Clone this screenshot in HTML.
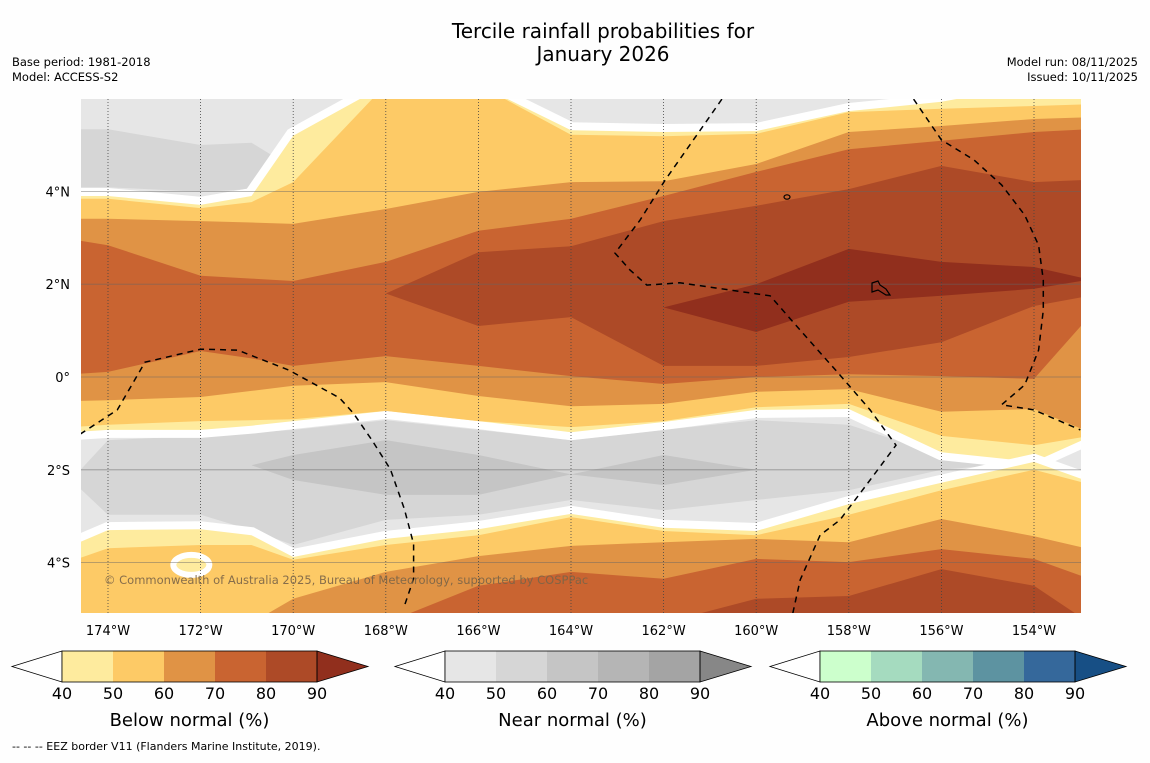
<!DOCTYPE html>
<html><head><meta charset="utf-8">
<style>
html,body{margin:0;padding:0;background:#fefefe;}
body{width:1150px;height:758px;overflow:hidden;font-family:"Liberation Sans",sans-serif;}
svg text{font-family:"DejaVu Sans","Liberation Sans",sans-serif;}
</style></head>
<body>
<svg id="chart" width="1150" height="758" viewBox="0 0 1150 758" xmlns="http://www.w3.org/2000/svg">
<rect width="1150" height="758" fill="#fefefe"/>
<text x="603" y="38" font-size="20" text-anchor="middle" fill="#000">Tercile rainfall probabilities for</text>
<text x="603" y="61" font-size="20" text-anchor="middle" fill="#000">January 2026</text>
<text x="12" y="66" font-size="11.5" fill="#000">Base period: 1981-2018</text>
<text x="12" y="81" font-size="11.5" fill="#000">Model: ACCESS-S2</text>
<text x="1138" y="66" font-size="11.5" text-anchor="end" fill="#000">Model run: 08/11/2025</text>
<text x="1138" y="81" font-size="11.5" text-anchor="end" fill="#000">Issued: 10/11/2025</text>
<defs><clipPath id="mapclip"><rect x="81" y="99" width="1000" height="514"/></clipPath></defs>
<g id="map" clip-path="url(#mapclip)">
<rect x="81" y="99" width="1000" height="514" fill="#e6e6e6"/>
<g id="layers"></g>
<g id="grid"></g>
<g id="eez"></g>
<text x="104" y="584" font-size="11.5" fill="#7a6448" opacity="0.9">© Commonwealth of Australia 2025, Bureau of Meteorology, supported by COSPPac</text>
</g>
<g id="axes"></g>
<g id="cbars"></g>
<text x="12" y="750" font-size="11" fill="#000">--  --  -- EEZ border V11 (Flanders Marine Institute, 2019).</text>
</svg>
<script>
// ---- data (latitudes of contour edges at each longitude column) ----
const lons = [-174.8,-174,-172,-170.9,-170,-168,-166,-164,-162,-160,-158,-156,-154,-152.8];
// northern below-normal band: north/south edges per level
const n40N = [3.90,3.90,3.71,3.90,5.2,6.3,6.3,5.32,5.28,5.30,5.73,5.93,6.3,6.3];
const n40S = [-1.19,-1.14,-1.14,-1.05,-0.95,-0.73,-0.95,-1.19,-0.97,-0.71,-0.69,-1.62,-1.83,-1.29];
const n50N = [3.84,3.84,3.64,3.77,4.20,6.3,6.3,5.22,5.19,5.24,5.71,5.78,5.84,5.88];
const n50S = [-1.08,-1.03,-0.95,-0.93,-0.91,-0.73,-0.95,-1.08,-0.95,-0.65,-0.58,-1.27,-1.47,-1.27];
const n60N = [3.41,3.41,3.36,3.33,3.30,3.62,3.99,4.20,4.22,4.59,5.28,5.41,5.56,5.60];
const n60S = [-0.52,-0.50,-0.43,-0.30,-0.19,-0.11,-0.41,-0.63,-0.58,-0.32,-0.26,-0.75,-0.69,-1.19];
const n70N = [2.97,2.84,2.18,2.12,2.07,2.48,3.15,3.41,3.90,4.42,4.91,5.09,5.28,5.34];
const n70S = [0.06,0.11,0.56,0.40,0.24,0.45,0.24,0.02,-0.15,0.0,0.06,0.02,-0.04,1.31];
const n80N = [1.8,1.8,1.8,1.8,1.8,1.8,2.69,2.82,3.36,3.69,4.05,4.55,4.20,4.25];
const n80S = [1.8,1.8,1.8,1.8,1.8,1.8,1.10,1.29,0.24,0.24,0.43,0.75,1.53,1.75];
const n90N = [1.6,1.6,1.6,1.6,1.6,1.6,1.6,1.6,1.5,2.00,2.76,2.48,2.37,2.1];
const n90S = [1.6,1.6,1.6,1.6,1.6,1.6,1.6,1.6,1.5,0.97,1.62,1.75,1.90,2.1];
// southern below-normal band: north edges (extends to map bottom)
const s40N = [-3.64,-3.30,-3.28,-3.41,-3.88,-3.49,-3.28,-2.95,-3.25,-3.32,-2.74,-2.28,-1.83,-2.26];
const s50N = [-3.97,-3.69,-3.62,-3.62,-3.94,-3.62,-3.41,-3.02,-3.32,-3.41,-2.97,-2.44,-2.00,-2.31];
const s60N = [-5.3,-5.3,-5.3,-5.3,-4.78,-4.20,-3.86,-3.64,-3.56,-3.49,-3.56,-3.06,-3.43,-3.71];
const s70N = [-5.3,-5.3,-5.3,-5.3,-5.3,-5.3,-4.50,-4.20,-4.35,-3.92,-3.99,-3.71,-3.92,-4.35];
const s80N = [-5.3,-5.3,-5.3,-5.3,-5.3,-5.3,-5.3,-5.3,-5.3,-4.78,-4.72,-4.14,-4.50,-5.3];
const bottomLat = -5.3;
// near-normal regions
const t50N = [5.34,5.34,5.0,5.05,4.5,4.5,4.5,4.5,4.5,4.5,4.5,4.5,4.5,4.5];
const t50S = [4.09,4.09,3.99,4.05,4.5,4.5,4.5,4.5,4.5,4.5,4.5,4.5,4.5,4.5];
const g50N = [-2.22,-1.36,-1.27,-1.2,-1.14,-0.93,-1.14,-1.36,-1.14,-0.93,-1.03,-1.68,-1.83,-1.83];
const g50S = [-2.22,-2.97,-2.97,-3.3,-3.62,-3.08,-2.97,-2.65,-2.87,-2.65,-2.44,-2.00,-1.83,-1.83];
const g60N = [-2.0,-2.0,-2.0,-1.9,-1.68,-1.36,-1.68,-2.1,-1.68,-2.0,-2.0,-2.0,-2.0,-2.0];
const g60S = [-2.0,-2.0,-2.0,-1.9,-2.22,-2.54,-2.54,-2.1,-2.33,-2.0,-2.0,-2.0,-2.0,-2.0];
const lonTicks = [-174,-172,-170,-168,-166,-164,-162,-160,-158,-156,-154];
const lonTickLabels = ["174°W","172°W","170°W","168°W","166°W","164°W","162°W","160°W","158°W","156°W","154°W"];
const latTicks = [4,2,0,-2,-4];
const latTickLabels = ["4°N","2°N","0°","2°S","4°S"];
const cbLabels = ["40","50","60","70","80","90"];
// EEZ borders (lon, lat)
const eez1Lon = [-174.6,-173.8,-173.2,-172.0,-171.2,-170.1,-169.0,-168.7,-168.3,-167.9,-167.6,-167.4,-167.4,-167.6];
const eez1Lat = [-1.23,-0.71,0.32,0.60,0.58,0.15,-0.45,-0.78,-1.36,-1.99,-2.84,-3.60,-4.35,-4.94];
const eez2Lon = [-160.74,-161.21,-161.97,-162.51,-163.05,-162.73,-162.36,-161.65,-159.70,-159.05,-158.19,-157.54,-156.98,-157.54,-158.19,-158.62,-159.05,-159.21];
const eez2Lat = [5.99,5.32,4.24,3.38,2.67,2.31,1.98,2.03,1.75,1.01,0.04,-0.71,-1.47,-2.22,-3.08,-3.41,-4.37,-5.09];
const eez3Lon = [-156.6,-156.0,-155.3,-154.7,-154.2,-153.9,-153.8,-153.8,-153.9,-154.2,-154.7,-154.0,-153.0];
const eez3Lat = [5.99,5.11,4.68,4.14,3.49,2.84,2.09,1.44,0.58,-0.17,-0.60,-0.71,-1.14];

const X = lon => 108 + (lon + 174) * 46.3;
const Y = lat => 377 - lat * 46.4;
const NS = "http://www.w3.org/2000/svg";
function mk(tag, attrs, parent){const e=document.createElementNS(NS,tag);for(const k in attrs)e.setAttribute(k,attrs[k]);parent.appendChild(e);return e;}
function bandPts(N,S){
  const a=[];for(let i=0;i<lons.length;i++)a.push(X(lons[i]).toFixed(1)+","+Y(N[i]).toFixed(1));
  for(let i=lons.length-1;i>=0;i--)a.push(X(lons[i]).toFixed(1)+","+Y(S[i]).toFixed(1));
  return a.join(" ");
}
const layers=document.getElementById("layers");
function band(N,S,fill,name,white){
  const p=mk("polygon",{points:bandPts(N,S),fill:fill},layers);
  if(white){p.setAttribute("stroke","#ffffff");p.setAttribute("stroke-width","16");p.setAttribute("stroke-linejoin","miter");p.setAttribute("paint-order","stroke");}
  
  
}
const bottom = lons.map(()=>bottomLat);
band(t50N,t50S,"#d6d6d6","near-normal-50-north",false);
band(g50N,g50S,"#d6d6d6","near-normal-50-south",false);
band(g60N,g60S,"#c5c5c5","near-normal-60-south",false);
const BC=["#feeb9e","#fdca66","#e09345","#c96431","#ad4a27","#912f1d"];
band(n40N,n40S,BC[0],"below-normal-40-north",true);
band(n50N,n50S,BC[1],"below-normal-50-north",false);
band(n60N,n60S,BC[2],"below-normal-60-north",false);
band(n70N,n70S,BC[3],"below-normal-70-north",false);
band(n80N,n80S,BC[4],"below-normal-80-north",false);
band(n90N,n90S,BC[5],"below-normal-90-north",false);
band(s40N,bottom,BC[0],"below-normal-40-south",true);
band(s50N,bottom,BC[1],"below-normal-50-south",false);
band(s60N,bottom,BC[2],"below-normal-60-south",false);
band(s70N,bottom,BC[3],"below-normal-70-south",false);
band(s80N,bottom,BC[4],"below-normal-80-south",false);
// weak-signal patch near 4S 172W
const hole=mk("ellipse",{cx:X(-172.2),cy:Y(-4.05),rx:18,ry:10,fill:"#feeb9e",stroke:"#fff","stroke-width":"6"},layers);



// grid
const grid=document.getElementById("grid");
lonTicks.forEach(l=>{const g=mk("line",{x1:X(l),x2:X(l),y1:99,y2:613,stroke:"#444","stroke-width":"0.8","stroke-dasharray":"1,2"},grid);

});
latTicks.forEach(l=>{const g=mk("line",{x1:81,x2:1081,y1:Y(l),y2:Y(l),stroke:"#666","stroke-width":"0.8","stroke-opacity":"0.6"},grid);

});

// EEZ lines
const eez=document.getElementById("eez");
function eline(LO,LA,name){const p=LO.map((l,i)=>X(l).toFixed(1)+","+Y(LA[i]).toFixed(1)).join(" ");
const e=mk("polyline",{points:p,fill:"none",stroke:"#000","stroke-width":"1.5","stroke-dasharray":"6,5"},eez);

}
eline(eez1Lon,eez1Lat,"eez-border-west");
eline(eez2Lon,eez2Lat,"eez-border-central");
eline(eez3Lon,eez3Lat,"eez-border-east");
const isl=mk("path",{d:"M872,283 l6,-2 l2,4 l6,4 l4,6 l-4,0 l-8,-5 l-6,2 z",fill:"none",stroke:"#000","stroke-width":"1.2"},eez);


const isl2=mk("ellipse",{cx:787,cy:197,rx:3,ry:2.2,fill:"none",stroke:"#000","stroke-width":"1.2"},eez);



// axes labels
const axes=document.getElementById("axes");
lonTicks.forEach((l,i)=>{const t=mk("text",{x:X(l),y:635,"font-size":"13","text-anchor":"middle",fill:"#000"},axes);t.textContent=lonTickLabels[i];

});
latTicks.forEach((l,i)=>{const t=mk("text",{x:70,y:Y(l)+5,"font-size":"13","text-anchor":"end",fill:"#000"},axes);t.textContent=latTickLabels[i];

});

// colorbars
const cb=document.getElementById("cbars");
function colorbar(x0,colors,tri,title,name){
  const w=51,y0=651,h=31;
  const g=mk("g",{},cb);
  
  
  mk("polygon",{points:`${x0},${y0+h/2} ${x0+50},${y0} ${x0+50},${y0+h}`,fill:"#fff",stroke:"#000","stroke-width":"0.8"},g);
  colors.forEach((c,i)=>{mk("rect",{x:x0+50+i*w,y:y0,width:w,height:h,fill:c},g);});
  const xe=x0+50+5*w;
  mk("polygon",{points:`${xe},${y0} ${xe+51},${y0+h/2} ${xe},${y0+h}`,fill:tri,stroke:"#000","stroke-width":"0.8"},g);
  mk("rect",{x:x0+50,y:y0,width:5*w,height:h,fill:"none",stroke:"#000","stroke-width":"0.8"},g);
  cbLabels.forEach((s,i)=>{const t=mk("text",{x:x0+50+i*w,y:699,"font-size":"16","text-anchor":"middle",fill:"#000"},g);t.textContent=s;
  
  });
  const tt=mk("text",{x:x0+50+2.5*w,y:726,"font-size":"18","text-anchor":"middle",fill:"#000"},g);tt.textContent=title;
  
  
}
colorbar(12,BC.slice(0,5),BC[5],"Below normal (%)","below-normal-colorbar");
colorbar(395,["#e6e6e6","#d6d6d6","#c5c5c5","#b5b5b5","#a4a4a4"],"#878787","Near normal (%)","near-normal-colorbar");
colorbar(770,["#ccffcc","#a5dbbf","#84b7b1","#5d93a1","#35689b"],"#174f85","Above normal (%)","above-normal-colorbar");
</script>
</body></html>
